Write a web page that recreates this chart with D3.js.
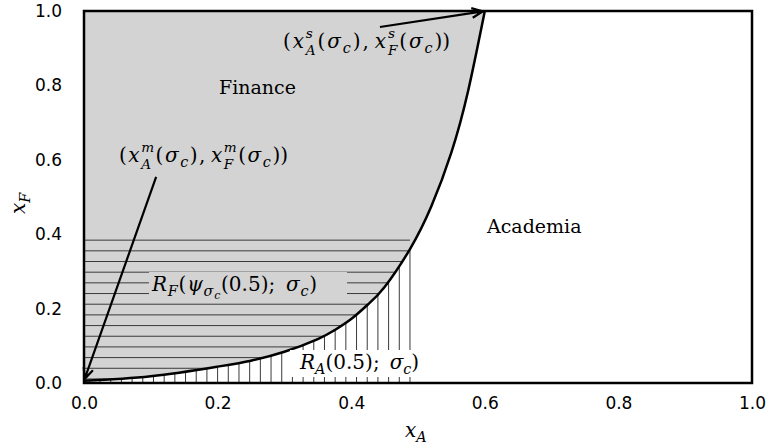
<!DOCTYPE html>
<html><head><meta charset="utf-8">
<script src="https://cdn.jsdelivr.net/npm/d3@7"></script>
<style>body{margin:0;background:#fff}svg{display:block}</style>
</head><body>
<svg id="c" width="769" height="448"></svg>
<script>
// ---- data ----
const curveX = [0, 0.10, 0.20, 0.25, 0.30, 0.35, 0.375, 0.40, 0.425, 0.45, 0.488, 0.52, 0.55, 0.575, 0.60];
const curveY = [0.006, 0.018, 0.044, 0.060, 0.084, 0.118, 0.142, 0.172, 0.211, 0.258, 0.360, 0.475, 0.620, 0.785, 1.000];
const xStar = 0.488;       // academia cutoff x_A
const yStar = 0.384;       // finance cutoff x_F
const hatchStepX = 0.016;  // vertical hatch spacing (data units)
const hatchStepY = 0.0287; // horizontal hatch spacing (data units)
const xTicks = [0, 0.2, 0.4, 0.6, 0.8, 1.0];
const yTicks = [0, 0.2, 0.4, 0.6, 0.8, 1.0];
const arrowM = {from: [0.108, 0.554], to: [0.0, 0.006]};
const arrowS = {from: [0.443, 0.957], to: [0.600, 1.000]};

const svg = d3.select('#c');
const x = d3.scaleLinear([0, 1], [84, 752]);
const y = d3.scaleLinear([0, 1], [383, 11]);
const pts = curveX.map((v, i) => [v, curveY[i]]);
const line = d3.line().x(d => x(d[0])).y(d => y(d[1])).curve(d3.curveNatural);

const defs = svg.append('defs');
defs.append('clipPath').attr('id', 'fin').append('path')
  .attr('d', line(pts) + `L${x(0)},${y(1)}Z`);
defs.append('clipPath').attr('id', 'aca').append('path')
  .attr('d', line(pts) + `L${x(0.6)},${y(0)}L${x(0)},${y(0)}Z`);

// gray finance area
svg.append('path').attr('d', line(pts) + `L${x(0)},${y(1)}Z`).attr('fill', '#d3d3d3');

// horizontal hatch (finance part)
const hLines = d3.range(0, 14).map(k => yStar - k * hatchStepY);
svg.append('g').attr('clip-path', 'url(#fin)').selectAll('line').data(hLines).join('line')
  .attr('x1', x(0)).attr('x2', x(xStar)).attr('y1', d => y(d)).attr('y2', d => y(d))
  .attr('stroke', '#3a3a3a').attr('stroke-width', 1);
// vertical hatch (academia part)
const vLines = d3.range(0, 31).map(k => xStar - k * hatchStepX);
svg.append('g').attr('clip-path', 'url(#aca)').selectAll('line').data(vLines).join('line')
  .attr('x1', d => x(d)).attr('x2', d => x(d)).attr('y1', y(0)).attr('y2', y(1))
  .attr('stroke', '#3a3a3a').attr('stroke-width', 1);

// curve
svg.append('path').attr('d', line(pts)).attr('fill', 'none').attr('stroke', '#000').attr('stroke-width', 2.5);

// frame
svg.append('rect').attr('x', x(0)).attr('y', y(1)).attr('width', x(1) - x(0)).attr('height', y(0) - y(1))
  .attr('fill', 'none').attr('stroke', '#000').attr('stroke-width', 2.5);

// axes tick labels
const ax = svg.append('g').attr('transform', `translate(0,${y(0)})`)
  .call(d3.axisBottom(x).tickValues(xTicks).tickFormat(d3.format('.1f')).tickSize(0).tickPadding(14));
const ay = svg.append('g').attr('transform', `translate(${x(0)},0)`)
  .call(d3.axisLeft(y).tickValues(yTicks).tickFormat(d3.format('.1f')).tickSize(0).tickPadding(22));
[ax, ay].forEach(a => {
  a.select('.domain').remove();
  a.selectAll('text').attr('font-family', 'DejaVu Sans').attr('font-size', 17).attr('fill', '#000');
});

// math text helper: one <text> element, tspans positioned absolutely
const SERIF = 'DejaVu Serif';
function mathText(g, x0, y0, pieces, s, target) {
  const size = {0: s, 1: 0.68 * s, '-1': 0.72 * s, '-2': 0.55 * s};
  const off = {0: 0, 1: -0.5 * s, '-1': 0.25 * s, '-2': 0.42 * s};
  const t = g.append('text').attr('font-family', SERIF).attr('fill', '#000').style('white-space', 'pre');
  const run = (gap) => {
    t.selectAll('*').remove();
    let cx = x0, stackX = null, stackEnd = 0;
    pieces.forEach(p => {
      const [txt, it, lev, st] = p;
      const px = st === 'e' ? stackX : cx;
      const dy = st === 'e' ? 0.33 * s : off[lev];
      const fs = st === 'e' ? 0.68 * s : size[lev];
      const el = t.append('tspan').attr('x', px).attr('y', y0 + dy)
        .attr('font-size', fs).attr('font-style', it ? 'italic' : 'normal').text(txt);
      const w = el.node().getComputedTextLength();
      if (st === 's') { stackX = cx; stackEnd = cx + w; cx += w; }
      else if (st === 'e') { cx = Math.max(stackEnd, stackX + w) + gap; stackX = null; }
      else cx += w + gap;
    });
    return cx - gap - x0;
  };
  const w0 = run(0);
  if (target) {
    const n = pieces.filter(p => p[3] !== 's').length - 1;
    run(Math.max(0, (target - w0) / n));
  }
  return t;
}
function label(x0, y0, pieces, s, target) {
  const g = svg.append('g');
  mathText(g, x0, y0, pieces, s, target);
  return g;
}
function boxBehind(g, fill, pl, pr, pt, pb) {
  const b = g.node().getBBox();
  g.insert('rect', ':first-child').attr('x', b.x - pl).attr('y', b.y - pt)
    .attr('width', b.width + pl + pr).attr('height', b.height + pt + pb).attr('fill', fill);
}
const FS = 20;
const sig = [['σ', 1, 0], ['c', 1, -1]];
label(119, 162, [['(', 0, 0], ['x', 1, 0], ['m', 1, 1, 's'], ['A', 1, -1, 'e'], ['(', 0, 0], ...sig, [')', 0, 0], [',\u2009', 0, 0],
  ['x', 1, 0], ['m', 1, 1, 's'], ['F', 1, -1, 'e'], ['(', 0, 0], ...sig, ['))', 0, 0]], FS, 169);
label(283, 48, [['(', 0, 0], ['x', 1, 0], ['s', 1, 1, 's'], ['A', 1, -1, 'e'], ['(', 0, 0], ...sig, [')', 0, 0], [',\u2009', 0, 0],
  ['x', 1, 0], ['s', 1, 1, 's'], ['F', 1, -1, 'e'], ['(', 0, 0], ...sig, ['))', 0, 0]], FS, 167);
const gRF = label(152, 291, [['R', 1, 0], ['F', 1, -1], ['(', 0, 0], ['ψ', 1, 0], ['σ', 1, -1], ['c', 1, -2], ['(0.5);\u2002', 0, 0], ...sig, [')', 0, 0]], FS, 165);
boxBehind(gRF, '#d3d3d3', 2, 30, 0, 0);
const gRA = label(300, 369, [['R', 1, 0], ['A', 1, -1], ['(0.5);\u2002', 0, 0], ...sig, [')', 0, 0]], FS, 108);
boxBehind(gRA, '#fff', 9, 3, 0, 0);
svg.append('text').attr('x', 219).attr('y', 94).attr('font-family', SERIF).attr('font-size', 19).text('Finance');
svg.append('text').attr('x', 487).attr('y', 233).attr('font-family', SERIF).attr('font-size', 19).text('Academia');
label(405, 437, [['x', 1, 0], ['A', 1, -1]], FS);
const gy = svg.append('g').attr('transform', 'translate(25,214) rotate(-90)');
mathText(gy, 0, 0, [['x', 1, 0], ['F', 1, -1]], FS);

// arrows
function arrow(a) {
  const x0 = x(a.from[0]), y0 = y(a.from[1]);
  let x1 = x(a.to[0]), y1 = y(a.to[1]);
  const ang = Math.atan2(y1 - y0, x1 - x0);
  x1 -= 2 * Math.cos(ang); y1 -= 2 * Math.sin(ang);
  const L = 12, h = 0.42;
  const p1 = [x1 - L * Math.cos(ang - h), y1 - L * Math.sin(ang - h)];
  const p2 = [x1 - L * Math.cos(ang + h), y1 - L * Math.sin(ang + h)];
  svg.append('path').attr('d', `M${x0},${y0}L${x1},${y1}M${p1}L${x1},${y1}L${p2}`)
    .attr('fill', 'none').attr('stroke', '#000').attr('stroke-width', 2.2).attr('stroke-linejoin', 'miter');
}
arrow(arrowM); arrow(arrowS);
</script>
</body></html>
